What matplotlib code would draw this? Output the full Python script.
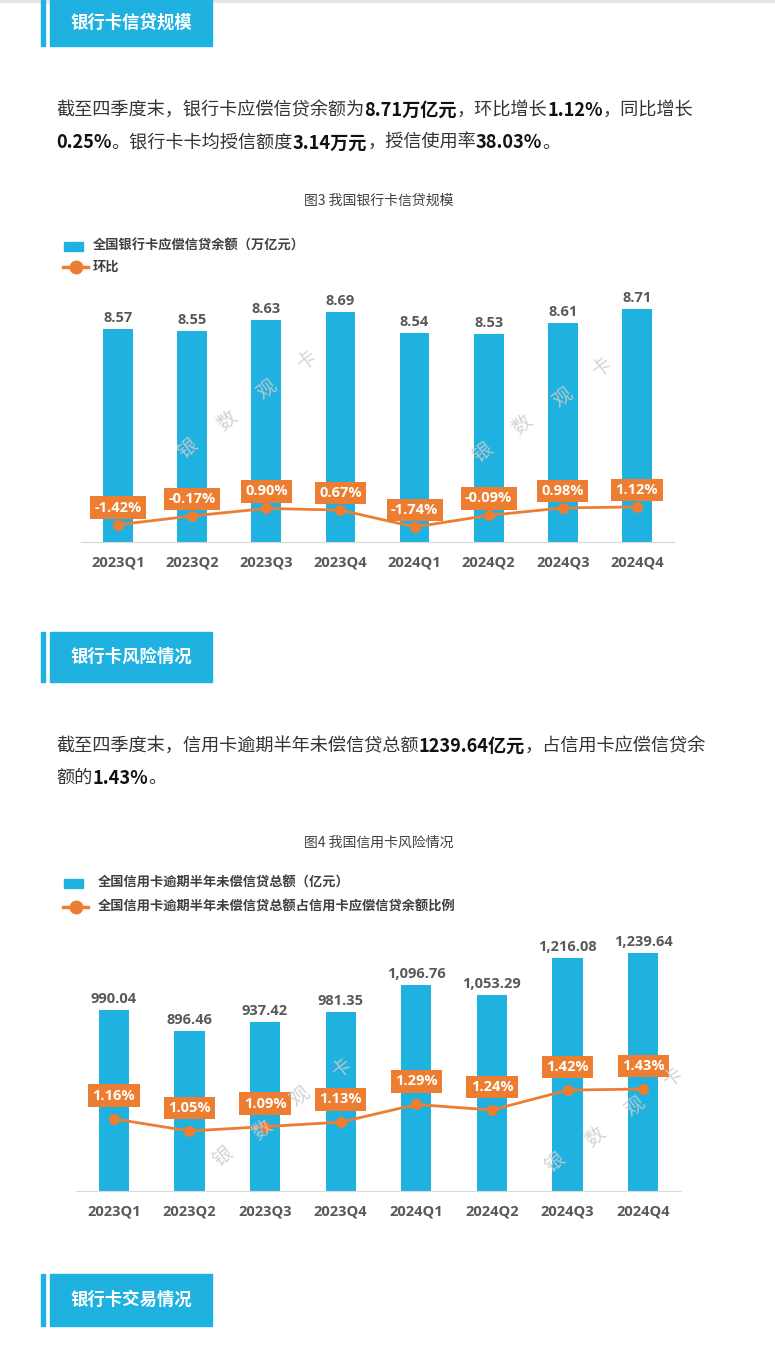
import numpy as np
import matplotlib
matplotlib.use('Agg')
import matplotlib.pyplot as plt
from matplotlib.patches import Rectangle
from matplotlib.lines import Line2D

W, H = 775, 1362
CJK = ['Noto Sans CJK SC', 'DejaVu Sans']
NUM = ['Open Sans', 'Noto Sans CJK SC']
plt.rcParams['font.family'] = CJK

BLUE = '#1fb1e0'
ORANGE = '#ed7d31'
GRAY = '#595959'

# data
quarters = ['2023Q1', '2023Q2', '2023Q3', '2023Q4', '2024Q1', '2024Q2', '2024Q3', '2024Q4']
balance = [8.57, 8.55, 8.63, 8.69, 8.54, 8.53, 8.61, 8.71]          # 万亿元
balance_qoq = [-1.42, -0.17, 0.90, 0.67, -1.74, -0.09, 0.98, 1.12]   # %
overdue = [990.04, 896.46, 937.42, 981.35, 1096.76, 1053.29, 1216.08, 1239.64]  # 亿元
overdue_ratio = [1.16, 1.05, 1.09, 1.13, 1.29, 1.24, 1.42, 1.43]     # %

fig = plt.figure(figsize=(W / 100, H / 100), dpi=100)
bg = fig.add_axes([0, 0, 1, 1], zorder=0)
bg.set_xlim(0, W)
bg.set_ylim(H, 0)
bg.axis('off')
r = fig.canvas.get_renderer()

# top strip
bg.add_patch(Rectangle((0, 0), W, 2, color='#e6e6e6'))


def header(y0, y1, title):
    bg.add_patch(Rectangle((41, y0), 4, y1 - y0, color=BLUE))
    bg.add_patch(Rectangle((50, y0), 162, y1 - y0, color=BLUE))
    bg.text(131, (y0 + y1) / 2, title, color='white', fontsize=12.5,
            fontweight='bold', ha='center', va='center')


def rich_line(x, y, parts):
    for s, b in parts:
        t = bg.text(x, y, s, fontsize=13.1, fontweight='bold' if b else 'normal',
                    color='#111111' if b else '#333333', va='center', ha='left')
        x += t.get_window_extent(renderer=r).width


def legend(y_bar, y_line, x_txt, bar_lbl, line_lbl):
    bg.add_patch(Rectangle((64, y_bar - 4.5), 19, 9, color=BLUE))
    bg.text(x_txt, y_bar, bar_lbl, fontsize=9.5, fontweight='bold', color='#404040',
            ha='left', va='center')
    bg.add_line(Line2D([63, 88], [y_line, y_line], color=ORANGE, lw=2.5))
    bg.plot([75.5], [y_line], 'o', color=ORANGE, ms=9)
    bg.text(x_txt, y_line, line_lbl, fontsize=9.5, fontweight='bold', color='#404040',
            ha='left', va='center')


def watermark(pts):
    for (x, y), ch in zip(pts, '银数观卡'):
        fig.text(x / W, 1 - y / H, ch, fontsize=14, color='#cccccc', alpha=0.85,
                 rotation=38, ha='center', va='center', zorder=5)


def chart(top, bottom, left, right, vals, ratios, ylim1, ylim2, box_off, fmt):
    ax = fig.add_axes([left / W, 1 - bottom / H, (right - left) / W, (bottom - top) / H], zorder=1)
    ax.patch.set_alpha(0)
    x = np.arange(len(quarters))
    ax.bar(x, vals, width=0.4, color=BLUE)
    ax.set_xlim(-0.5, len(quarters) - 0.5)
    ax.set_ylim(*ylim1)
    for s in ['top', 'left', 'right']:
        ax.spines[s].set_visible(False)
    ax.spines['bottom'].set_color('#d9d9d9')
    ax.set_yticks([])
    ax.set_xticks(x, quarters)
    ax.tick_params(axis='x', length=0, pad=10, labelsize=10.5, labelcolor=GRAY)
    for lbl in ax.get_xticklabels():
        lbl.set_fontweight('bold')
        lbl.set_family(NUM)
    for xi, v in zip(x, vals):
        ax.annotate(fmt(v), (xi, v), xytext=(0, 4), textcoords='offset pixels',
                    ha='center', va='bottom', fontsize=10.5, fontweight='bold', color=GRAY,
                    family=NUM)
    ax2 = ax.twinx()
    ax2.set_ylim(*ylim2)
    ax2.axis('off')
    ax2.plot(x, ratios, color=ORANGE, lw=2, marker='o', ms=7)
    for xi, v in zip(x, ratios):
        ax2.annotate(f'{v:.2f}%', (xi, v), xytext=(0, box_off), textcoords='offset pixels',
                     ha='center', va='center', fontsize=10.5, fontweight='bold', color='white',
                     family=NUM,
                     bbox=dict(boxstyle='square,pad=0.3', fc=ORANGE, ec='none'))


# section 1
header(0, 46, '银行卡信贷规模')
rich_line(56, 110, [('截至四季度末，银行卡应偿信贷余额为', False), ('8.71万亿元', True),
                    ('，环比增长', False), ('1.12%', True), ('，同比增长', False)])
rich_line(56, 143, [('0.25%', True), ('。银行卡卡均授信额度', False), ('3.14万元', True),
                    ('，授信使用率', False), ('38.03%', True), ('。', False)])
bg.text(379, 201, '图3 我国银行卡信贷规模', fontsize=10, color='#404040', ha='center', va='center')
legend(246, 267, 93, '全国银行卡应偿信贷余额（万亿元）', '环比')
chart(290, 542, 81, 674, balance, balance_qoq, (7.02, 8.85), (-3.89, 32.1), 17,
      lambda v: f'{v:.2f}')
watermark([(188, 449), (227, 421), (267, 390), (307, 360)])
watermark([(483, 453), (522, 425), (563, 398), (602, 367)])

# section 2
header(632, 682, '银行卡风险情况')
rich_line(56, 746, [('截至四季度末，信用卡逾期半年未偿信贷总额', False), ('1239.64亿元', True),
                    ('，占信用卡应偿信贷余', False)])
rich_line(56, 778, [('额的', False), ('1.43%', True), ('。', False)])
bg.text(379, 843, '图4 我国信用卡风险情况', fontsize=10, color='#404040', ha='center', va='center')
legend(883, 907, 98, '全国信用卡逾期半年未偿信贷总额（亿元）',
       '全国信用卡逾期半年未偿信贷总额占信用卡应偿信贷余额比例')
chart(930, 1191, 76, 681, overdue, overdue_ratio, (192, 1340), (0.507, 2.869), 23,
      lambda v: f'{v:,.2f}')
watermark([(223, 1157), (262, 1130), (300, 1097), (342, 1068)])
watermark([(555, 1163), (595, 1137), (635, 1107), (673, 1077)])

# section 3
header(1274, 1326, '银行卡交易情况')

fig.savefig('out.png', dpi=100, facecolor='white')
